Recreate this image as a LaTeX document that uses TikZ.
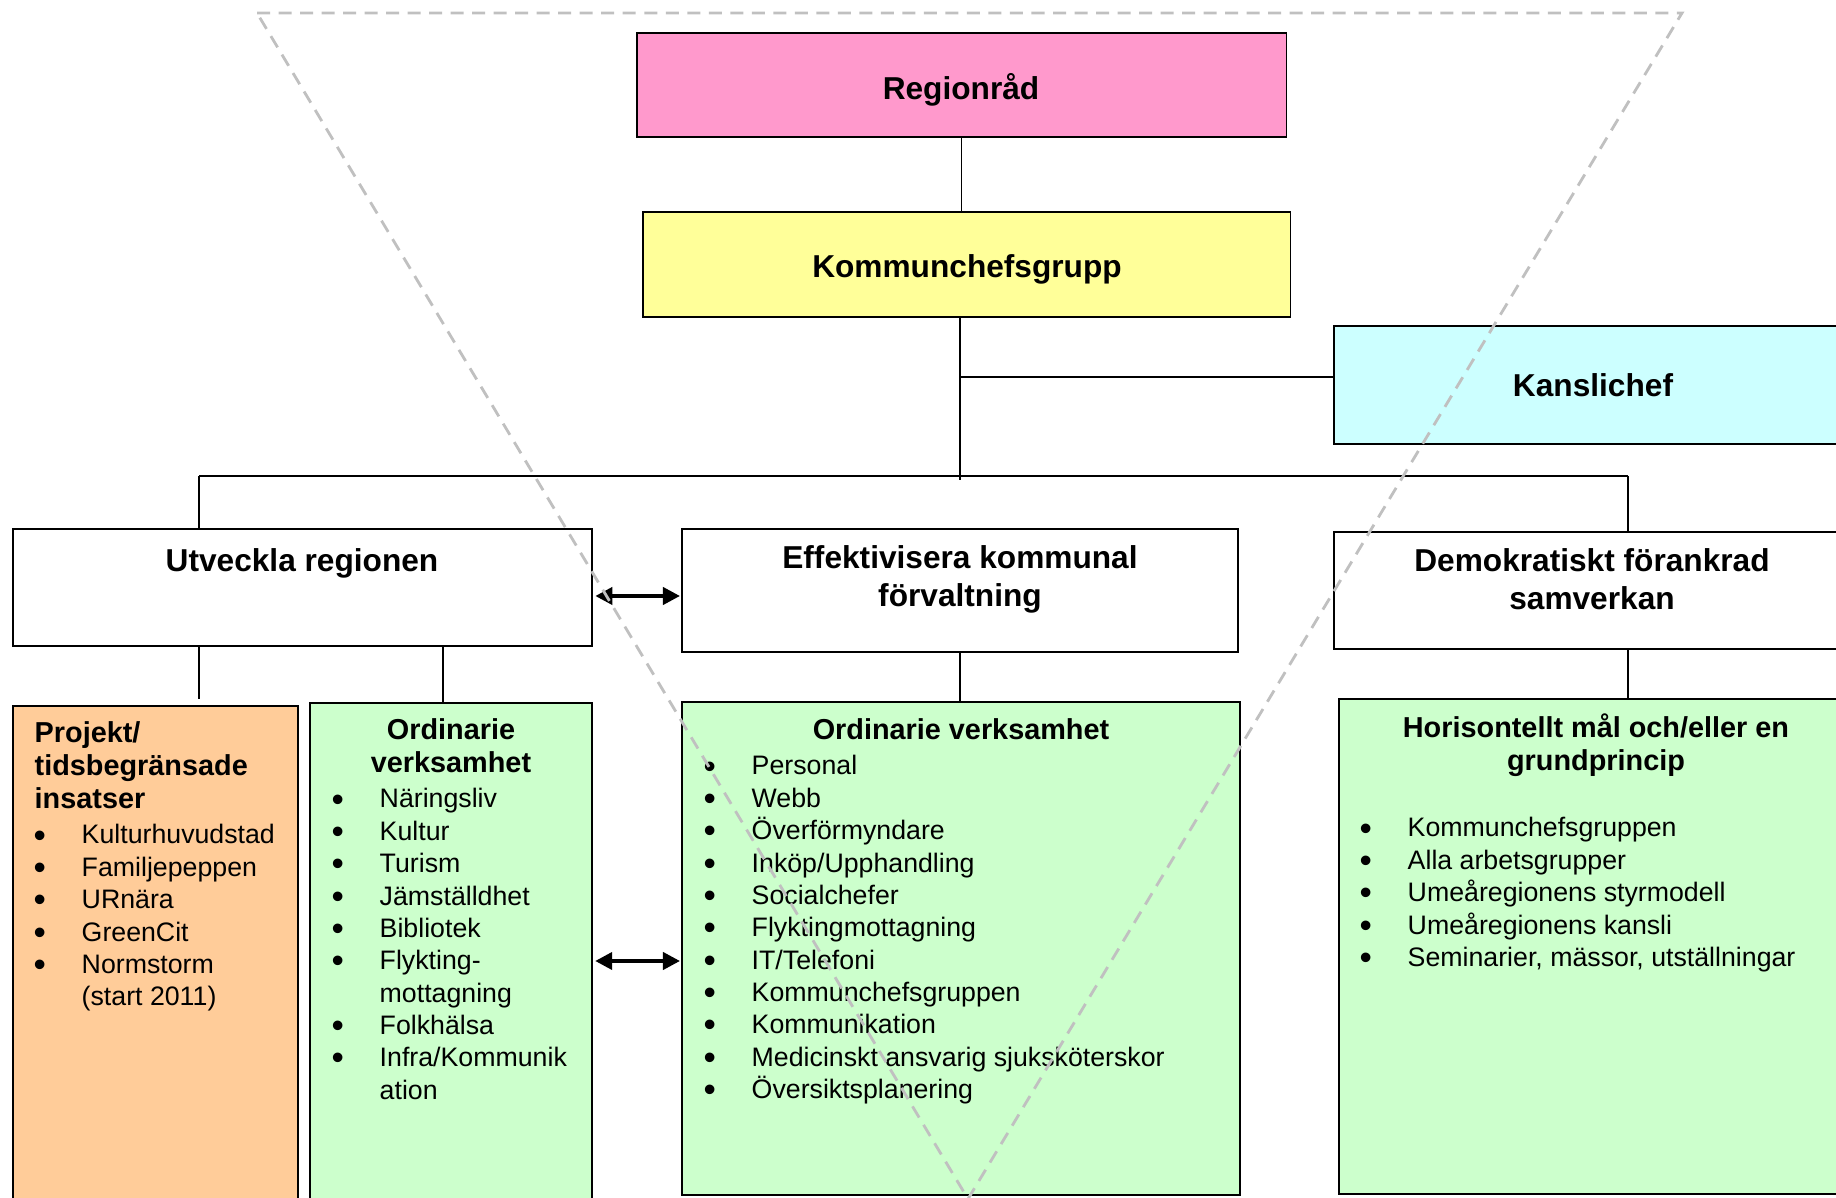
\documentclass[tikz,border=0pt]{standalone}
\usepackage{fontspec}
\setmainfont{Liberation Sans}
\usetikzlibrary{arrows.meta}

\definecolor{rosa}{HTML}{FF99CC}
\definecolor{gul}{HTML}{FFFF99}
\definecolor{ljusbla}{HTML}{CCFFFF}
\definecolor{persika}{HTML}{FFCC99}
\definecolor{gron}{HTML}{CCFFCC}
\definecolor{streck}{HTML}{C0C0C0}

\newcommand{\stor}{\fontsize{9}{10.6}\selectfont\bfseries}
\newcommand{\rubrik}{\fontsize{8.2}{9.3}\selectfont\bfseries}
\newcommand{\brod}{\fontsize{7.6}{9.2}\selectfont}
\newcommand{\pkt}{\makebox[0pt]{\smash{\raisebox{-0.9pt}{\fontsize{10}{9.2}\selectfont\textbullet}}}}
\newcommand{\lista}[1]{\begin{tabular}[t]{@{}p{0.42cm}@{}l@{}}#1\end{tabular}}
\newcommand{\rader}[2][c]{\begin{tabular}[t]{@{}#1@{}}#2\end{tabular}}

\tikzset{
  ruta/.style={draw, line width=0.5pt, inner sep=0pt, outer sep=0pt, anchor=north west},
  etikett/.style={inner sep=0pt, anchor=base},
  linje/.style={line width=0.4pt},
  pil/.style={line width=1.1pt, shorten <=0.03cm, shorten >=0.02cm,
    {Triangle[length=0.17cm,width=0.17cm]}-{Triangle[length=0.17cm,width=0.17cm]}},
  trekant/.style={draw=streck, line width=0.8pt, dash pattern=on 0.13cm off 0.085cm}
}

\begin{document}
\begin{tikzpicture}[x=0.01cm, y=-0.01cm]
\useasboundingbox (0,0) rectangle (1836,1198);
\clip (0,0) rectangle (1836,1198);

% Ledning
\node[ruta, fill=rosa, minimum width=6.49cm, minimum height=1.04cm] (regionrad) at (637,33) {};
\node[ruta, fill=gul, minimum width=6.47cm, minimum height=1.05cm] (kcg) at (643,212) {};
\node[ruta, fill=ljusbla, minimum width=5.2cm, minimum height=1.18cm] (kansli) at (1334,326) {};
\node[etikett, font=\stor] (regionradtext) at (961,100) {Regionråd};
\node[etikett, font=\stor] (kcgtext) at (967,278) {Kommunchefsgrupp};
\node[etikett, font=\stor] (kanslitext) at (1593,397) {Kanslichef};

% Tre mål
\node[ruta, fill=white, minimum width=5.79cm, minimum height=1.17cm] (utv) at (13,529) {};
\node[ruta, fill=white, minimum width=5.56cm, minimum height=1.23cm] (eff) at (682,529) {};
\node[ruta, fill=white, minimum width=5.2cm, minimum height=1.17cm] (demo) at (1334,532) {};
\node[etikett, font=\stor] (utvtext) at (302,572) {Utveckla regionen};
\node[etikett, font=\stor] (efftext) at (960,569) {\rader{Effektivisera kommunal\\förvaltning}};
\node[etikett, font=\stor] (demotext) at (1592,572) {\rader{Demokratiskt förankrad\\samverkan}};

% Verksamhet
\node[ruta, fill=persika, minimum width=2.85cm, minimum height=5.2cm] (proj) at (13,706) {};
\node[ruta, fill=gron, minimum width=2.82cm, minimum height=5.2cm] (ordl) at (310,703) {};
\node[ruta, fill=gron, minimum width=5.58cm, minimum height=4.93cm] (ordm) at (682,702) {};
\node[ruta, fill=gron, minimum width=5.2cm, minimum height=4.95cm] (hor) at (1339,699) {};

\node[etikett, anchor=base west, font=\rubrik] (projtext) at (34,743)
  {\rader[l]{Projekt/\\tidsbegränsade\\insatser}};
\node[etikett, anchor=base west, font=\brod] (projlista) at (39,844)
  {\lista{\pkt & Kulturhuvudstad\\ \pkt & Familjepeppen\\ \pkt & URnära\\
   \pkt & GreenCit\\ \pkt & Normstorm\\ & (start 2011)}};

\node[etikett, font=\rubrik] (ordltext) at (451,740) {\rader{Ordinarie\\verksamhet}};
\node[etikett, anchor=base west, font=\brod] (ordllista) at (337,808)
  {\lista{\pkt & Näringsliv\\ \pkt & Kultur\\ \pkt & Turism\\ \pkt & Jämställdhet\\
   \pkt & Bibliotek\\ \pkt & Flykting-\\ & mottagning\\ \pkt & Folkhälsa\\
   \pkt & Infra/Kommunik\\ & ation}};

\node[etikett, font=\rubrik] (ordmtext) at (961,740) {Ordinarie verksamhet};
\node[etikett, anchor=base west, font=\brod] (ordmlista) at (709,775)
  {\lista{\pkt & Personal\\ \pkt & Webb\\ \pkt & Överförmyndare\\ \pkt & Inköp/Upphandling\\
   \pkt & Socialchefer\\ \pkt & Flyktingmottagning\\ \pkt & IT/Telefoni\\
   \pkt & Kommunchefsgruppen\\ \pkt & Kommunikation\\
   \pkt & Medicinskt ansvarig sjuksköterskor\\ \pkt & Översiktsplanering}};

\node[etikett, font=\rubrik] (hortext) at (1596,738) {\rader{Horisontellt mål och/eller en\\grundprincip}};
\node[etikett, anchor=base west, font=\brod] (horlista) at (1365,837)
  {\lista{\pkt & Kommunchefsgruppen\\ \pkt & Alla arbetsgrupper\\
   \pkt & Umeåregionens styrmodell\\ \pkt & Umeåregionens kansli\\
   \pkt & Seminarier, mässor, utställningar}};

% Linjer
\coordinate (busL) at (199,476);
\coordinate (busC) at (960,476);
\coordinate (busR) at (1628,476);
\coordinate (kj) at (960,377);
\coordinate (ordx) at (443,0);
\draw[linje] (regionrad.south) -- (regionrad.south |- kcg.north);
\draw[linje] (kcg.south -| busC) -- ([yshift=-0.04cm]busC);
\draw[linje] (kj) -- (kj -| kansli.west);
\draw[linje] (busL) -- (busR);
\draw[linje] (busL) -- (busL |- utv.north);
\draw[linje] (busR) -- (busR |- demo.north);
\draw[linje] (busL |- utv.south) -- ([yshift=0.07cm]busL |- proj.north);
\draw[linje] (ordx |- utv.south) -- (ordx |- ordl.north);
\draw[linje] (eff.south) -- (eff.south |- ordm.north);
\draw[linje] (busR |- demo.south) -- (busR |- hor.north);

% Pilar
\coordinate (pil1) at (0,596);
\coordinate (pil2) at (0,961);
\draw[pil] (utv.east |- pil1) -- (eff.west |- pil1);
\draw[pil] (ordl.east |- pil2) -- (ordm.west |- pil2);

% Streckad triangel
\draw[trekant] (257,13) -- (1682,13) -- (968,1199) -- cycle;
\end{tikzpicture}
\end{document}
